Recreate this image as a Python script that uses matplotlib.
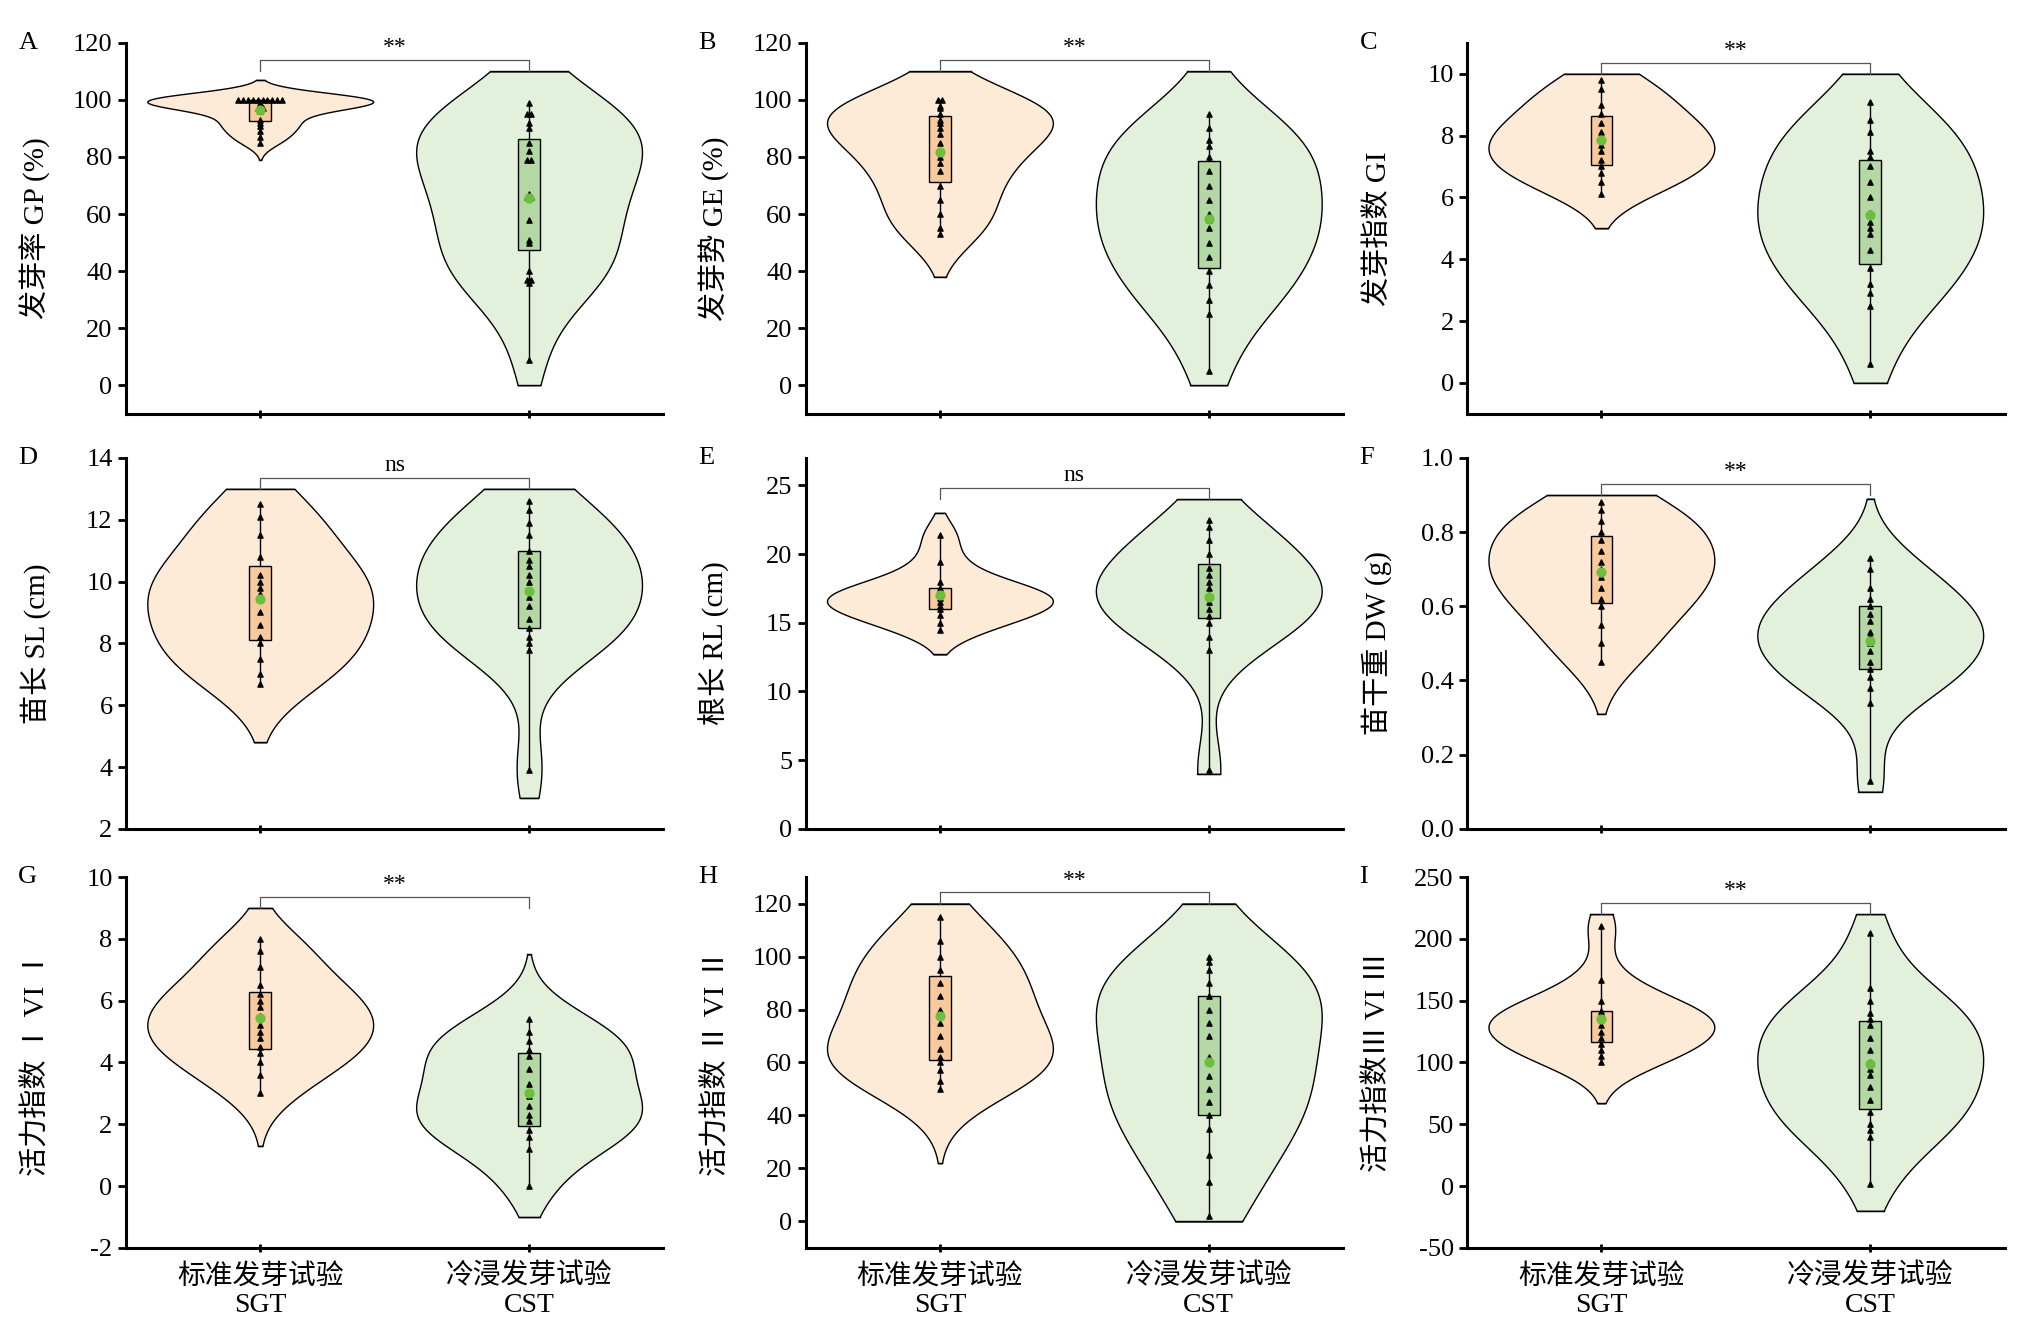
import numpy as np
import matplotlib
matplotlib.use("Agg")
import matplotlib.pyplot as plt

plt.rcParams['font.family'] = ['Liberation Serif', 'Noto Sans CJK SC']

groups = ["标准发芽试验\nSGT", "冷浸发芽试验\nCST"]
letters = ["A", "B", "C", "D", "E", "F", "G", "H", "I"]
ylabels = ["发芽率 GP (%)", "发芽势 GE (%)", "发芽指数 GI",
           "苗长 SL (cm)", "根长 RL (cm)", "苗干重 DW (g)",
           "活力指数 Ⅰ VI Ⅰ", "活力指数 Ⅱ VI Ⅱ", "活力指数Ⅲ VI Ⅲ"]
sig = ["**", "**", "**", "ns", "ns", "**", "**", "**", "**"]
ylims = [(-10, 120), (-10, 120), (-1, 11), (2, 14), (0, 27), (0, 1.0), (-2, 10), (-10, 130), (-50, 250)]
yticks = [np.arange(0, 121, 20), np.arange(0, 121, 20), np.arange(0, 11, 2), np.arange(2, 15, 2),
          np.arange(0, 26, 5), np.arange(0, 1.01, 0.2), np.arange(-2, 11, 2), np.arange(0, 121, 20),
          np.arange(-50, 251, 50)]
tickfmt = ["{:.0f}"] * 5 + ["{:.1f}"] + ["{:.0f}"] * 3

# violin extents (bottom, top) per panel: SGT, CST
clips = [[(79, 107), (0, 110)], [(38, 110), (0, 110)], [(5, 10), (0, 10)],
         [(4.8, 13), (3, 13)], [(12.7, 23), (4, 24)], [(0.31, 0.9), (0.1, 0.89)],
         [(1.3, 9), (-1, 7.5)], [(22, 120), (0, 120)], [(67, 220), (-20, 220)]]

sgt = [
    [100]*10 + [99, 97, 97, 96, 93, 92, 91, 89, 87, 85],
    [100, 100, 98, 97, 95, 93, 92, 90, 88, 85, 80, 78, 75, 70, 65, 60, 55, 53],
    [9.8, 9.5, 9.0, 8.7, 8.4, 8.1, 7.9, 7.7, 7.5, 7.2, 7.0, 6.8, 6.5, 6.1],
    [12.5, 12.1, 11.5, 10.8, 10.2, 10.0, 9.8, 9.6, 9.0, 8.6, 8.2, 8.0, 7.5, 7.0, 6.7],
    [21.4, 19.4, 18.0, 17.5, 17.2, 17.0, 16.8, 16.5, 16.2, 16.0, 15.6, 15.0, 14.5],
    [.88, .86, .83, .80, .78, .75, .72, .70, .68, .65, .62, .60, .55, .50, .45],
    [8.0, 7.6, 7.1, 6.5, 6.2, 6.0, 5.8, 5.5, 5.2, 5.0, 4.8, 4.5, 4.3, 4.0, 3.6, 3.0],
    [115, 106, 100, 95, 90, 85, 80, 75, 70, 65, 62, 60, 57, 53, 50],
    [210, 167, 150, 142, 140, 138, 135, 130, 125, 120, 115, 110, 105, 100],
]
cst = [
    [99, 95, 95, 92, 90, 85, 82, 79, 79, 67, 66, 66, 58, 51, 50, 40, 37, 37, 36, 9],
    [95, 90, 86, 84, 80, 75, 70, 65, 60, 58, 55, 50, 45, 40, 35, 30, 25, 5],
    [9.1, 8.5, 8.1, 7.5, 7.3, 7.0, 6.5, 6.0, 5.5, 5.2, 5.0, 4.8, 4.3, 3.7, 3.2, 2.9, 2.5, 0.6],
    [12.6, 12.3, 11.9, 11.5, 11.0, 10.7, 10.5, 10.2, 10.0, 9.5, 9.2, 8.8, 8.5, 8.2, 8.0, 7.8, 3.9],
    [22.5, 22.0, 21.0, 20.0, 19.0, 18.5, 18.0, 17.5, 17.0, 16.5, 16.0, 15.5, 15.0, 14.0, 13.0, 4.3],
    [.73, .70, .65, .62, .60, .58, .56, .53, .52, .50, .48, .45, .43, .41, .38, .34, .13],
    [5.4, 5.0, 4.7, 4.4, 4.2, 3.8, 3.3, 2.9, 2.6, 2.3, 2.1, 1.8, 1.6, 1.2, 0.0],
    [100, 98, 95, 90, 85, 80, 75, 70, 62, 55, 50, 45, 40, 35, 25, 15, 2],
    [205, 160, 150, 140, 135, 130, 120, 110, 100, 95, 90, 80, 70, 60, 50, 45, 40, 2],
]

vcol = ["#fdebd8", "#e3f1dc"]
bcol = ["#f7c99c", "#b3d8a3"]
mean_col = "#6cbf3c"


def kde(data, grid):
    data = np.asarray(data, float)
    bw = 1.06 * data.std() * len(data) ** (-1 / 5)
    d = (grid[:, None] - data[None, :]) / bw
    return np.exp(-0.5 * d ** 2).sum(axis=1)


fig = plt.figure(figsize=(20.29, 13.39), dpi=100)
lefts = [0.062, 0.397, 0.723]
bottoms = [0.691, 0.381, 0.068]
w, h = 0.265, 0.277

for i in range(9):
    r, c = divmod(i, 3)
    ax = fig.add_axes([lefts[c], bottoms[r], w, h])
    for g, data in enumerate([sgt[i], cst[i]]):
        x = g + 1
        lo, hi = clips[i][g]
        grid = np.linspace(lo, hi, 300)
        dens = kde(data, grid)
        dens = dens / dens.max() * 0.42
        ax.fill_betweenx(grid, x - dens, x + dens, facecolor=vcol[g], edgecolor="black", lw=1.0, zorder=1)
        ax.plot([x - dens[0], x + dens[0]], [lo, lo], color="black", lw=1.0, zorder=1)
        ax.plot([x - dens[-1], x + dens[-1]], [hi, hi], color="black", lw=1.0, zorder=1)
        q1, q3 = np.percentile(data, [25, 75])
        ax.plot([x, x], [min(data), max(data)], color="black", lw=1.0, zorder=2)
        ax.add_patch(plt.Rectangle((x - 0.04, q1), 0.08, q3 - q1, facecolor=bcol[g],
                                   edgecolor="black", lw=1.0, zorder=3))
        vals, counts = np.unique(data, return_counts=True)
        for v, n in zip(vals, counts):
            offs = (np.arange(n) - (n - 1) / 2) * 0.018
            ax.scatter(x + offs, [v] * n, marker="^", s=14, color="black", zorder=4)
        ax.scatter([x], [np.mean(data)], s=40, color=mean_col, zorder=5)
    # significance bracket
    span = ylims[i][1] - ylims[i][0]
    top = max(clips[i][0][1], clips[i][1][1])
    yb = top + span * 0.03
    ax.plot([1, 1, 2, 2], [yb - span * 0.03, yb, yb, yb - span * 0.03], color="#555555", lw=0.9)
    ax.text(1.5, yb + span * 0.005, sig[i], ha="center", va="bottom", fontsize=17)

    ax.set_xlim(0.5, 2.5)
    ax.set_ylim(*ylims[i])
    ax.set_yticks(yticks[i])
    ax.set_yticklabels([tickfmt[i].format(t) for t in yticks[i]])
    ax.set_xticks([1, 2])
    ax.set_xticklabels(groups if r == 2 else ["", ""], fontsize=20)
    ax.tick_params(axis="y", labelsize=19, width=2, length=6, direction="out")
    ax.tick_params(axis="x", width=2, length=6, direction="inout", pad=8)
    for s in ["top", "right"]:
        ax.spines[s].set_visible(False)
    for s in ["left", "bottom"]:
        ax.spines[s].set_linewidth(2.2)
    ax.set_ylabel(ylabels[i], fontsize=21)
    ax.yaxis.set_label_coords(-0.14, 0.5)
    ax.text(-0.2, 1.0, letters[i], transform=ax.transAxes, fontsize=19, va="center")

fig.savefig("out.png", dpi=100)
